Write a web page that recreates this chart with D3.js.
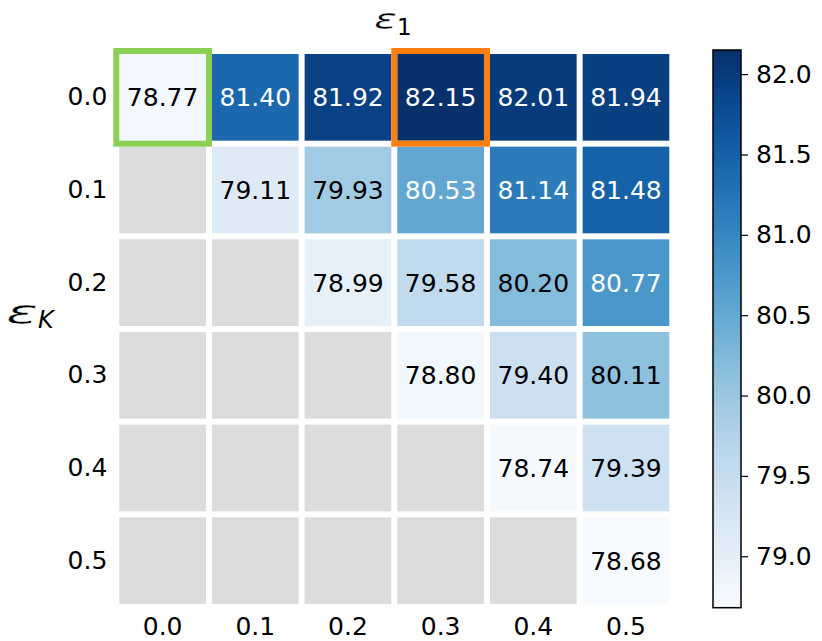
<!DOCTYPE html>
<html>
<head>
<meta charset="utf-8">
<script src="https://cdn.jsdelivr.net/npm/d3@7"></script>
<style>
  body { margin: 0; background: #fff; }
  text { font-family: "DejaVu Sans", sans-serif; }
</style>
</head>
<body>
<div id="chart"></div>
<script>
var eps1 = ["0.0", "0.1", "0.2", "0.3", "0.4", "0.5"];
var epsK = ["0.0", "0.1", "0.2", "0.3", "0.4", "0.5"];
// rows = eps_K, columns = eps_1 ; null = not evaluated (grey)
var row0 = [78.77, 81.40, 81.92, 82.15, 82.01, 81.94];
var row1 = [null, 79.11, 79.93, 80.53, 81.14, 81.48];
var row2 = [null, null, 78.99, 79.58, 80.20, 80.77];
var row3 = [null, null, null, 78.80, 79.40, 80.11];
var row4 = [null, null, null, null, 78.74, 79.39];
var row5 = [null, null, null, null, null, 78.68];
var rows = [row0, row1, row2, row3, row4, row5];
var cbTicks = [79.0, 79.5, 80.0, 80.5, 81.0, 81.5, 82.0];
var baseline = [0, 0];   // green box: row, col
var best = [0, 3];       // orange box: row, col

var width = 822, height = 641;
var svg = d3.select('#chart').append('svg')
    .attr('width', width)
    .attr('height', height);

var x = d3.scaleBand().domain(eps1).range([116.3, 672.3]);
var y = d3.scaleBand().domain(epsK).range([51, 607]);
var bw = x.bandwidth();

var vmin = 78.68, vmax = 82.15;
var color = d3.scaleSequential(d3.interpolateBlues).domain([vmin, vmax]);

var cells = [];
rows.forEach(function(r, i) {
    r.forEach(function(v, j) {
        cells.push({ row: epsK[i], col: eps1[j], v: v });
    });
});

var g = svg.append('g');

g.selectAll('rect.cell')
    .data(cells)
    .enter().append('rect')
    .attr('class', 'cell')
    .attr('x', function(d) { return x(d.col) + 3; })
    .attr('y', function(d) { return y(d.row) + 3; })
    .attr('width', bw - 6)
    .attr('height', bw - 6)
    .attr('fill', function(d) { return d.v == null ? '#dcdcdc' : color(d.v); });

g.selectAll('text.val')
    .data(cells.filter(function(d) { return d.v != null; }))
    .enter().append('text')
    .attr('class', 'val')
    .attr('x', function(d) { return x(d.col) + bw / 2; })
    .attr('y', function(d) { return y(d.row) + bw / 2; })
    .attr('dy', '0.36em')
    .attr('text-anchor', 'middle')
    .style('font-size', '25px')
    .attr('fill', function(d) { return d.v > 80.4 ? '#fff' : '#000'; })
    .text(function(d) { return d.v.toFixed(2); });

// highlight boxes
[[baseline, '#8ccf55'], [best, '#ff7f0e']].forEach(function(h) {
    g.append('rect')
        .attr('x', x(eps1[h[0][1]]))
        .attr('y', y(epsK[h[0][0]]))
        .attr('width', bw)
        .attr('height', bw)
        .attr('fill', 'none')
        .attr('stroke', h[1])
        .attr('stroke-width', 6);
});

// axes
var xAxis = svg.append('g')
    .attr('transform', 'translate(0,607)')
    .call(d3.axisBottom(x).tickSize(0).tickPadding(10));
var yAxis = svg.append('g')
    .attr('transform', 'translate(116.3,0)')
    .call(d3.axisLeft(y).tickSize(0).tickPadding(9));
[xAxis, yAxis].forEach(function(a) {
    a.select('.domain').remove();
    a.selectAll('text').style('font-size', '25px').attr('fill', '#000')
        .style('font-family', '"DejaVu Sans", sans-serif');
});

// axis titles (mathtext-like epsilon, stretched to the wide varepsilon)
svg.append('text')
    .attr('x', 374).attr('y', 29)
    .style('font-size', '29px').style('font-style', 'italic')
    .attr('textLength', 23).attr('lengthAdjust', 'spacingAndGlyphs')
    .attr('stroke', '#fff').attr('stroke-width', 0.4)
    .text('ε');
svg.append('text')
    .attr('x', 397).attr('y', 35)
    .style('font-size', '23px')
    .text('1');

svg.append('text')
    .attr('x', 6).attr('y', 324)
    .style('font-size', '34px').style('font-style', 'italic')
    .attr('textLength', 32).attr('lengthAdjust', 'spacingAndGlyphs')
    .attr('stroke', '#fff').attr('stroke-width', 0.45)
    .text('ε');
svg.append('text')
    .attr('x', 38).attr('y', 328)
    .style('font-size', '24px').style('font-style', 'italic')
    .text('K');

// colorbar
var cbX = 713, cbW = 28;
var cy = d3.scaleLinear().domain([vmin, vmax]).range([607.7, 50]);
var defs = svg.append('defs');
var grad = defs.append('linearGradient')
    .attr('id', 'cbgrad')
    .attr('x1', 0).attr('y1', 1).attr('x2', 0).attr('y2', 0);
d3.range(0, 1.0001, 0.05).forEach(function(t) {
    grad.append('stop')
        .attr('offset', t)
        .attr('stop-color', color(vmin + t * (vmax - vmin)));
});
svg.append('rect')
    .attr('x', cbX).attr('y', 50)
    .attr('width', cbW).attr('height', 557.7)
    .attr('fill', 'url(#cbgrad)')
    .attr('stroke', '#000')
    .attr('stroke-width', 1.5);

var cAxis = svg.append('g')
    .attr('transform', 'translate(' + (cbX + cbW) + ',0)')
    .call(d3.axisRight(cy).tickValues(cbTicks).tickFormat(d3.format('.1f')).tickSize(7).tickPadding(8));
cAxis.select('.domain').remove();
cAxis.selectAll('line').attr('stroke', '#000').attr('stroke-width', 1.2);
cAxis.selectAll('text').style('font-size', '25px').attr('fill', '#000')
    .style('font-family', '"DejaVu Sans", sans-serif');
</script>
</body>
</html>
